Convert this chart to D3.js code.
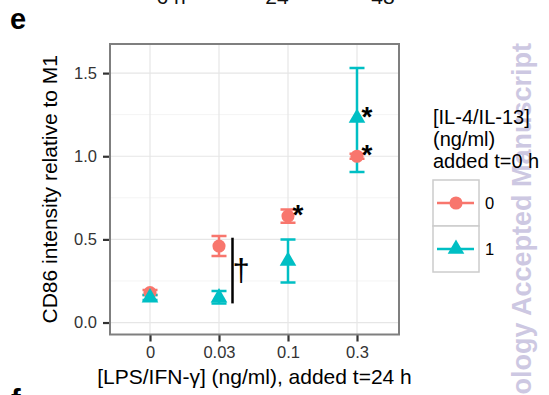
<!DOCTYPE html>
<html>
<head>
<meta charset="utf-8">
<script src="https://cdn.jsdelivr.net/npm/d3@7"></script>
<style>
  body { margin: 0; background: #fff; }
  svg { font-family: "Liberation Sans", Arial, sans-serif; }
</style>
</head>
<body>
<svg id="Chart"></svg>
<script>
// LPS/IFN-g dose categories on the x axis
const categories = ['0', '0.03', '0.1', '0.3'];

// [IL-4/IL-13] = 0 (red circles)
const il0Mean = [0.18, 0.46, 0.64, 1.00];
const il0Lo   = [0.165, 0.40, 0.60, 0.985];
const il0Hi   = [0.195, 0.52, 0.68, 1.015];

// [IL-4/IL-13] = 1 (cyan triangles)
const il1Mean = [0.15, 0.15, 0.37, 1.23];
const il1Lo   = [0.135, 0.115, 0.24, 0.905];
const il1Hi   = [0.165, 0.19, 0.50, 1.53];

const yTicks = [0.0, 0.5, 1.0, 1.5];
const yMinor = [0.25, 0.75, 1.25];
const yTickLabels = ['0.0', '0.5', '1.0', '1.5'];

// significance marks: * next to points, dagger bracket between groups at 0.03
const stars = [
  { cat: '0.1', value: 0.64 },
  { cat: '0.3', value: 1.23 },
  { cat: '0.3', value: 1.00 }
];
const dagger = { cat: '0.03', from: 0.115, to: 0.51 };

const legendLabels = ['0', '1'];
const colors = ['#F8766D', '#00BFC4'];

const width = 549, height = 395;
const panel = { left: 110, top: 44, right: 399, bottom: 334.5 };

const svg = d3.select('#Chart')
  .attr('width', width)
  .attr('height', height);

const x = d3.scalePoint()
  .domain(categories)
  .range([150, 357]);

const y = d3.scaleLinear()
  .domain([-0.072, 1.675])
  .range([panel.bottom, panel.top]);

// bits of neighbouring panels that show at the edges
svg.append('g').selectAll('text')
  .data([{ t: '6 h', x: 171 }, { t: '24', x: 277 }, { t: '48', x: 383 }])
  .enter().append('text')
  .attr('x', d => d.x)
  .attr('y', 4)
  .attr('text-anchor', 'middle')
  .style('font-size', '21px')
  .style('fill', '#111')
  .text(d => d.t);

svg.append('text')
  .attr('x', 10)
  .attr('y', 29)
  .style('font-size', '29px')
  .style('font-weight', 'bold')
  .text('e');

svg.append('text')
  .attr('x', 11)
  .attr('y', 410)
  .style('font-size', '29px')
  .style('font-weight', 'bold')
  .text('f');

// watermark
svg.append('text')
  .attr('transform', 'translate(531,43) rotate(-90)')
  .attr('text-anchor', 'end')
  .style('font-size', '27px')
  .style('font-weight', 'bold')
  .style('fill', '#cdc8e2')
  .text('Cell Biology Accepted Manuscript');

// panel background + grid
svg.append('rect')
  .attr('x', panel.left).attr('y', panel.top)
  .attr('width', panel.right - panel.left)
  .attr('height', panel.bottom - panel.top)
  .attr('fill', '#fff');

svg.append('g').selectAll('line')
  .data(yMinor)
  .enter().append('line')
  .attr('x1', panel.left).attr('x2', panel.right)
  .attr('y1', d => y(d)).attr('y2', d => y(d))
  .attr('stroke', '#f4f4f4')
  .attr('stroke-width', 1);

svg.append('g').selectAll('line')
  .data(yTicks)
  .enter().append('line')
  .attr('x1', panel.left).attr('x2', panel.right)
  .attr('y1', d => y(d)).attr('y2', d => y(d))
  .attr('stroke', '#e6e6e6')
  .attr('stroke-width', 1.2);

svg.append('g').selectAll('line')
  .data(categories)
  .enter().append('line')
  .attr('x1', d => x(d)).attr('x2', d => x(d))
  .attr('y1', panel.top).attr('y2', panel.bottom)
  .attr('stroke', '#e6e6e6')
  .attr('stroke-width', 1.2);

// axes
const yAxis = svg.append('g')
  .attr('transform', 'translate(' + panel.left + ',0)')
  .call(d3.axisLeft(y).tickValues(yTicks).tickSize(7).tickPadding(6)
    .tickFormat((d, i) => yTickLabels[i]));

const xAxis = svg.append('g')
  .attr('transform', 'translate(0,' + panel.bottom + ')')
  .call(d3.axisBottom(x).tickSize(7).tickPadding(5));

[yAxis, xAxis].forEach(a => {
  a.select('.domain').remove();
  a.selectAll('.tick line').attr('stroke', '#333').attr('stroke-width', 2.2);
  a.selectAll('.tick text')
    .style('font-size', '16.5px')
    .style('fill', '#333')
    .style('font-family', '"Liberation Sans", Arial, sans-serif');
});

// panel border
svg.append('rect')
  .attr('x', panel.left).attr('y', panel.top)
  .attr('width', panel.right - panel.left)
  .attr('height', panel.bottom - panel.top)
  .attr('fill', 'none')
  .attr('stroke', '#7f7f7f')
  .attr('stroke-width', 2);

// axis titles
svg.append('text')
  .attr('x', (panel.left + panel.right) / 2)
  .attr('y', 384)
  .attr('text-anchor', 'middle')
  .style('font-size', '21px')
  .text('[LPS/IFN-γ] (ng/ml), added t=24 h');

svg.append('text')
  .attr('transform', 'translate(57,' + (panel.top + panel.bottom) / 2 + ') rotate(-90)')
  .attr('text-anchor', 'middle')
  .style('font-size', '21px')
  .text('CD86 intensity relative to M1');

// data
const series = [
  { mean: il0Mean, lo: il0Lo, hi: il0Hi, color: colors[0], shape: d3.symbolCircle },
  { mean: il1Mean, lo: il1Lo, hi: il1Hi, color: colors[1], shape: d3.symbolTriangle }
];

const capW = 7.5;
series.forEach(s => {
  const g = svg.append('g');
  const rows = categories.map((c, i) => ({ c, lo: s.lo[i], hi: s.hi[i] }));
  g.selectAll('.bar')
    .data(rows)
    .enter().append('path')
    .attr('fill', 'none')
    .attr('stroke', s.color)
    .attr('stroke-width', 2.5)
    .attr('d', d => {
      const cx = x(d.c);
      return 'M' + (cx - capW) + ',' + y(d.hi) + 'H' + (cx + capW) +
        'M' + cx + ',' + y(d.hi) + 'V' + y(d.lo) +
        'M' + (cx - capW) + ',' + y(d.lo) + 'H' + (cx + capW);
    });
});

series.forEach(s => {
  svg.append('g').selectAll('path')
    .data(categories.map((c, i) => ({ c, v: s.mean[i] })))
    .enter().append('path')
    .attr('transform', d => 'translate(' + x(d.c) + ',' + y(d.v) + ')')
    .attr('d', d3.symbol().type(s.shape).size(s.shape === d3.symbolCircle ? 135 : 120))
    .attr('fill', s.color);
});

// significance marks
svg.append('g').selectAll('text')
  .data(stars)
  .enter().append('text')
  .attr('x', d => x(d.cat) + 10)
  .attr('y', d => y(d.value) - 8 + 16)
  .attr('text-anchor', 'middle')
  .style('font-size', '28px')
  .style('font-weight', 'bold')
  .text('*');

svg.append('line')
  .attr('x1', x(dagger.cat) + 13.5).attr('x2', x(dagger.cat) + 13.5)
  .attr('y1', y(dagger.to)).attr('y2', y(dagger.from))
  .attr('stroke', '#000')
  .attr('stroke-width', 2.5);

svg.append('text')
  .attr('x', x(dagger.cat) + 22)
  .attr('y', y((dagger.from + dagger.to) / 2) + 10)
  .attr('text-anchor', 'middle')
  .style('font-size', '31px')
  .text('†');

// legend
const legend = svg.append('g');
['[IL-4/IL-13]', '(ng/ml)', 'added t=0 h'].forEach((t, i) => {
  legend.append('text')
    .attr('x', 433)
    .attr('y', 124 + i * 22)
    .style('font-size', '20px')
    .text(t);
});

const keys = legend.selectAll('.key')
  .data(legendLabels)
  .enter().append('g')
  .attr('class', 'key')
  .attr('transform', (d, i) => 'translate(433,' + (180 + i * 46) + ')');

keys.append('rect')
  .attr('width', 46).attr('height', 46)
  .attr('fill', '#fff')
  .attr('stroke', '#cccccc')
  .attr('stroke-width', 1.5);

keys.append('line')
  .attr('x1', 4).attr('x2', 41)
  .attr('y1', 23).attr('y2', 23)
  .attr('stroke', (d, i) => colors[i])
  .attr('stroke-width', 2.5);

keys.append('path')
  .attr('transform', 'translate(23,23)')
  .attr('d', (d, i) => d3.symbol().type(series[i].shape).size(i === 0 ? 135 : 120)())
  .attr('fill', (d, i) => colors[i]);

keys.append('text')
  .attr('x', 52)
  .attr('y', 29)
  .style('font-size', '16.5px')
  .text(d => d);
</script>
</body>
</html>
